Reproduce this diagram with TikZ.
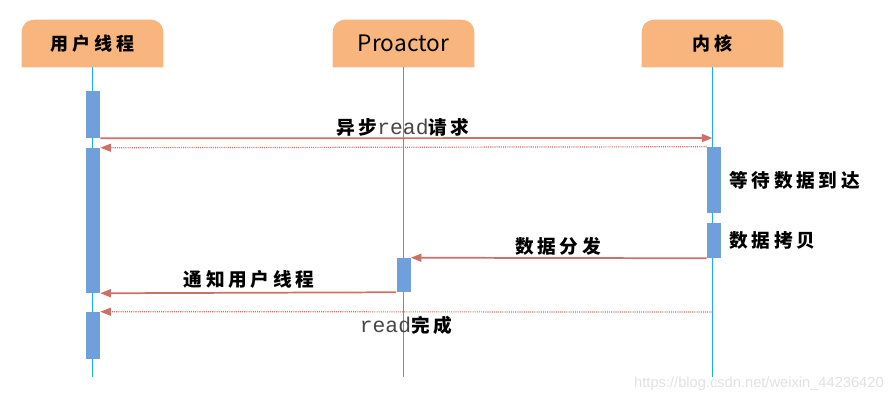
\documentclass[tikz,border=0pt]{standalone}
\usepackage{fontspec}
\setmainfont{Liberation Sans}
\newfontfamily\cjk{Noto Sans CJK SC}[LetterSpace=20]
\newfontfamily\cjkhdr{Noto Sans CJK SC}[LetterSpace=22]
\newfontfamily\latinhdr{Noto Sans CJK SC}
\newfontfamily\monofnt{Liberation Mono}
\usetikzlibrary{arrows.meta}
\definecolor{hdrorange}{RGB}{248,182,126}
\definecolor{barblue}{RGB}{111,160,220}
\definecolor{lifecyan}{RGB}{26,176,232}
\definecolor{msgred}{RGB}{208,110,104}
\definecolor{readgrey}{RGB}{70,70,70}
\definecolor{wmgrey}{RGB}{225,225,225}
\newcommand{\readword}{{\fontsize{16pt}{18pt}\monofnt\mdseries\color{readgrey}read}}
\begin{document}
\begin{tikzpicture}[x=0.75pt,y=-0.75pt,
  hdr/.style={minimum width=105.75pt,minimum height=35.25pt,inner sep=0pt},
  hdrtext/.style={font=\fontsize{13.5pt}{15pt}\cjkhdr\bfseries},
  bar/.style={fill=barblue,draw=none,minimum width=10.5pt,inner sep=0pt},
  life/.style={draw=lifecyan,line width=0.8pt},
  msg/.style={draw=msgred,line width=1.3pt,-{Triangle[length=8pt,width=6pt]}},
  ret/.style={draw=msgred,line width=0.9pt,dash pattern=on 0.8pt off 0.8pt,-{Triangle[length=8pt,width=6pt,fill=msgred]}},
  lbl/.style={font=\fontsize{14pt}{16pt}\cjk\bfseries,inner sep=0pt},
]
\useasboundingbox (0,0) rectangle (894,403);
% headers
\node[hdr] (u) at (92.5,43.5) {};
\node[hdr] (p) at (403.5,43.5) {};
\node[hdr] (k) at (712.5,43.5) {};
\foreach \n in {u,p,k}{
  \fill[hdrorange] (\n.south west) {[rounded corners=9pt] -- (\n.north west) -- (\n.north east)} -- (\n.south east) -- cycle;
}
\node[hdrtext] at (u) {用户线程};
\node[font=\fontsize{17pt}{19pt}\latinhdr] at (p) {Proactor};
\node[hdrtext] at (k) {内核};
% lifeline ends
\coordinate (ue) at (92.5,377);
\coordinate (pe) at (403.5,377);
\coordinate (ke) at (712.5,377);
\draw[life] (u.south) -- (ue);
\draw[life] (p.south) -- (pe);
\draw[life] (k.south) -- (ke);
% activation bars
\node[bar,minimum height=35.25pt] (ub1) at (93,114.5) {};
\node[bar,minimum height=108.75pt] (ub2) at (93,220.5) {};
\node[bar,minimum height=35.25pt] (ub3) at (93,335.5) {};
\node[bar,minimum height=49.5pt] (kb1) at (714,180) {};
\node[bar,minimum height=26.25pt] (kb2) at (714,240.5) {};
\node[bar,minimum height=25.5pt] (pb) at (403.5,275) {};
% message end points
\coordinate (k1) at (712.5,138);
\coordinate (k5) at (712.5,312);
% messages
\draw[msg] (ub1.south east) -- (k1);
\draw[ret] (kb1.north west) -- (ub2.north east);
\draw[msg] (kb2.south west) -- (pb.north east);
\draw[msg] (pb.south west) -- (ub2.south east);
\draw[ret] (k5) -- (ub3.north east);
% labels
\node[lbl] (l1) at (403,127) {异步\readword 请求};
\node[lbl,anchor=west] (l2) at (729,180) {等待数据到达};
\node[lbl,anchor=west] (l3) at (729,240) {数据拷贝};
\node[lbl] (l4) at (558,246) {数据分发};
\node[lbl] (l5) at (249,279) {通知用户线程};
\node[lbl] (l6) at (406,325) {\readword 完成};
\node[anchor=east,text=wmgrey,font=\fontsize{11pt}{13pt}\selectfont,inner sep=0pt] (wm) at (884,384) {https://blog.csdn.net/weixin\_44236420};
\end{tikzpicture}
\end{document}
